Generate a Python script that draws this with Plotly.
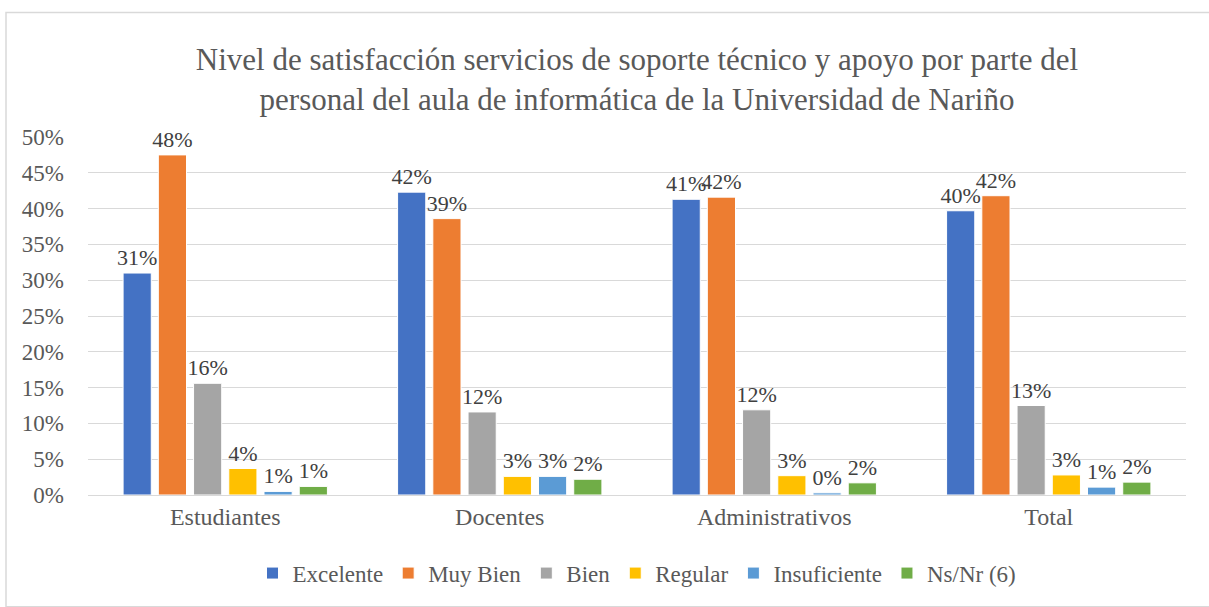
import plotly.graph_objects as go

# Datos (proporciones)
categorias = ['Estudiantes', 'Docentes', 'Administrativos', 'Total']
series = ['Excelente', 'Muy Bien', 'Bien', 'Regular', 'Insuficiente', 'Ns/Nr (6)']
excelente = [0.310, 0.423, 0.413, 0.397]
muy_bien = [0.475, 0.386, 0.416, 0.418]
bien = [0.156, 0.116, 0.119, 0.125]
regular = [0.037, 0.026, 0.027, 0.028]
insuficiente = [0.005, 0.026, 0.003, 0.011]
ns_nr = [0.012, 0.022, 0.017, 0.018]
valores = [excelente, muy_bien, bien, regular, insuficiente, ns_nr]
colores = ['#4472C4', '#ED7D31', '#A5A5A5', '#FFC000', '#5B9BD5', '#70AD47']

W, H = 1209, 607
ML, MR, MT, MB = 88, 23, 137, 108
FUENTE = 'Liberation Serif'

fig = go.Figure()
for nombre, vals, color in zip(series, valores, colores):
    fig.add_trace(go.Bar(
        x=categorias, y=vals, name=nombre,
        marker=dict(color=color, line=dict(color='white', width=1)),
        text=vals, texttemplate='%{y:.0%}', textposition='outside',
        textfont=dict(family=FUENTE, size=22, color='#404040'),
        constraintext='none', cliponaxis=False,
    ))

# borde del gráfico (izquierda y arriba; el resto queda fuera de la imagen)
pw, ph = W - ML - MR, H - MT - MB
fig.add_shape(type='rect', xref='paper', yref='paper',
              x0=(6 - ML) / pw, x1=(W + 5 - ML) / pw,
              y0=-(H + 5 - MT - ph) / ph, y1=1 + (MT - 11) / ph,
              line=dict(color='#d9d9d9', width=1.5), layer='below')

fig.update_layout(
    width=W, height=H,
    margin=dict(l=ML, r=MR, t=MT, b=MB),
    paper_bgcolor='white', plot_bgcolor='white',
    font=dict(family=FUENTE, size=23, color='#595959'),
    title=dict(
        text='Nivel de satisfacción servicios de soporte técnico y apoyo por parte del<br>'
             'personal del aula de informática de la Universidad de Nariño',
        x=0.5, xanchor='center', xref='paper', y=1 - 70 / H, yanchor='middle', yref='container',
        font=dict(family=FUENTE, size=31, color='#595959'),
    ),
    barmode='group', bargap=0.23, bargroupgap=0.2,
    showlegend=True,
    legend=dict(orientation='h', x=0.5, xanchor='center', y=-(578 - MT - ph) / ph, yanchor='middle',
                font=dict(family=FUENTE, size=23, color='#595959'),
                itemwidth=30, traceorder='normal'),
    yaxis=dict(range=[0, 0.5], dtick=0.05, tickformat='.0%', showgrid=True,
               gridcolor='#d9d9d9', gridwidth=1, zeroline=False, showline=False,
               ticks='', ticklen=0, ticklabelstandoff=23, tickfont=dict(size=23)),
    xaxis=dict(showline=True, linecolor='#d9d9d9', linewidth=1, ticks='', showgrid=False,
               tickfont=dict(size=24)),
)

# la página trae 8px de margen en el body; se quita para que la figura empiece en (0, 0)
fig.write_html('out.html', config={'displayModeBar': False},
               post_script="document.body.style.margin='0';")
